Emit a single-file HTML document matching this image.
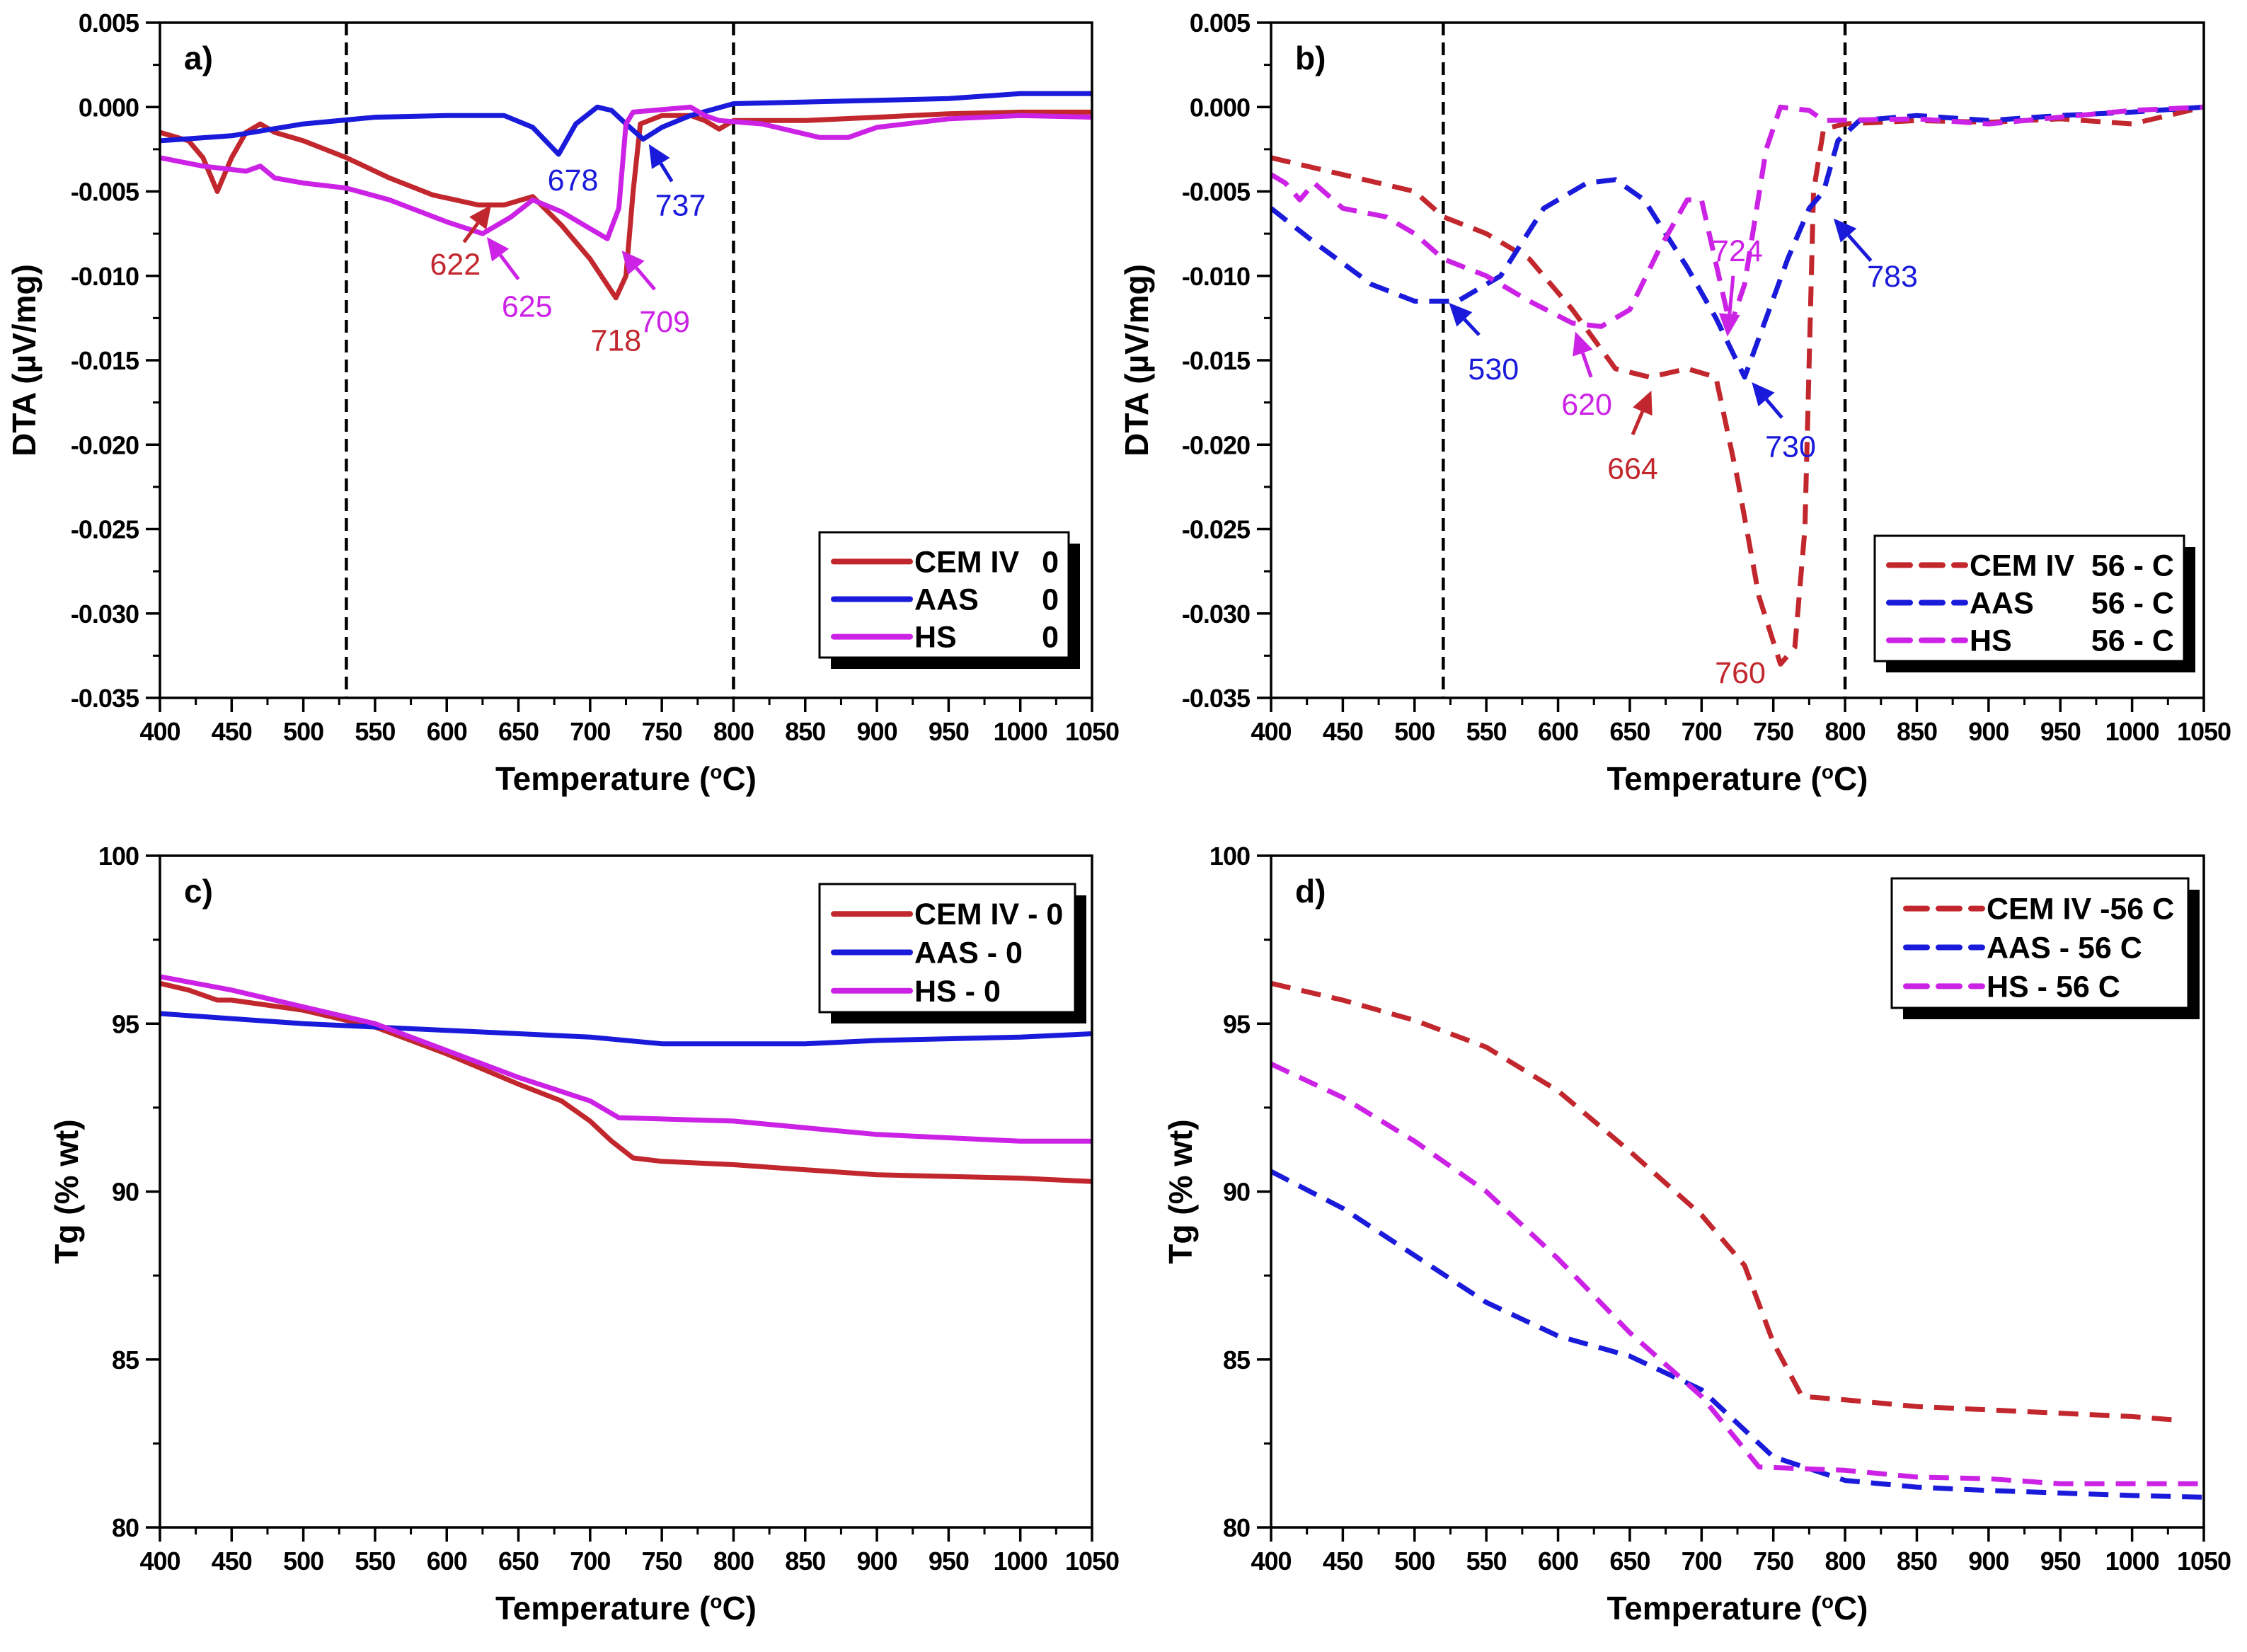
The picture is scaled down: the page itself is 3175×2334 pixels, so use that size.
<!DOCTYPE html>
<html><head><meta charset="utf-8"><style>
html,body{margin:0;padding:0;background:#fff;}
svg{display:block;}
text{font-family:"Liberation Sans",Arial,sans-serif;}
.tick{font-size:36px;font-weight:bold;letter-spacing:-1px;}
.title{font-size:46px;font-weight:bold;}
.leg{font-size:43px;font-weight:bold;}
.ann{font-size:43px;}
</style></head><body>
<svg id="fig" width="3175" height="2334" viewBox="0 0 3175 2334" xmlns="http://www.w3.org/2000/svg"></svg>
<script>
// ---- data: x temperatures and y values per series ----
const aCemX=[400,420,430,440,450,460,470,480,500,530,560,590,622,640,660,680,700,718,725,730,735,750,770,780,790,800,850,900,950,1000,1050];
const aCemY=[-0.0015,-0.002,-0.003,-0.005,-0.003,-0.0015,-0.001,-0.0015,-0.002,-0.003,-0.0042,-0.0052,-0.0058,-0.0058,-0.0053,-0.007,-0.009,-0.0113,-0.010,-0.005,-0.001,-0.0005,-0.0005,-0.0008,-0.0013,-0.0008,-0.0008,-0.0006,-0.0004,-0.0003,-0.0003];
const aAasX=[400,450,500,550,600,640,660,678,690,705,715,725,737,750,770,800,850,900,950,1000,1050];
const aAasY=[-0.002,-0.0017,-0.001,-0.0006,-0.0005,-0.0005,-0.0012,-0.0028,-0.001,0.0,-0.0002,-0.001,-0.0019,-0.0012,-0.0005,0.0002,0.0003,0.0004,0.0005,0.0008,0.0008];
const aHsX=[400,430,460,470,480,500,530,560,600,625,645,660,680,700,712,720,725,730,770,780,790,820,860,880,900,950,1000,1050];
const aHsY=[-0.003,-0.0035,-0.0038,-0.0035,-0.0042,-0.0045,-0.0048,-0.0055,-0.0068,-0.0075,-0.0065,-0.0055,-0.0062,-0.0072,-0.0078,-0.006,-0.001,-0.0003,0.0,-0.0005,-0.0008,-0.001,-0.0018,-0.0018,-0.0012,-0.0007,-0.0005,-0.0006];

const bCemX=[400,450,500,520,550,580,610,640,664,690,710,725,740,755,765,772,778,785,800,850,900,950,1000,1050];
const bCemY=[-0.003,-0.004,-0.005,-0.0065,-0.0075,-0.009,-0.012,-0.0155,-0.016,-0.0155,-0.016,-0.022,-0.029,-0.033,-0.032,-0.025,-0.005,-0.0013,-0.001,-0.0008,-0.0009,-0.0007,-0.001,0.0];
const bAasX=[400,430,470,500,530,560,590,620,640,660,690,710,730,745,760,775,785,795,810,850,900,950,1000,1050];
const bAasY=[-0.006,-0.008,-0.0105,-0.0115,-0.0115,-0.01,-0.006,-0.0045,-0.0043,-0.0055,-0.0095,-0.0125,-0.016,-0.0125,-0.009,-0.006,-0.005,-0.002,-0.0008,-0.0005,-0.0008,-0.0005,-0.0003,0.0];
const bHsX=[400,410,420,430,450,480,500,520,550,580,610,630,650,670,690,700,720,730,745,755,775,785,850,900,1000,1050];
const bHsY=[-0.004,-0.0045,-0.0055,-0.0045,-0.006,-0.0065,-0.0075,-0.009,-0.01,-0.0115,-0.0128,-0.013,-0.012,-0.0085,-0.0055,-0.0055,-0.013,-0.0105,-0.0025,0.0,-0.0002,-0.0008,-0.0007,-0.001,-0.0002,0.0];

const cCemX=[400,420,440,450,500,550,600,650,680,700,715,730,750,800,900,1000,1050];
const cCemY=[96.2,96.0,95.7,95.7,95.4,94.9,94.1,93.2,92.7,92.1,91.5,91.0,90.9,90.8,90.5,90.4,90.3];
const cAasX=[400,500,600,700,750,800,850,900,1000,1050];
const cAasY=[95.3,95.0,94.8,94.6,94.4,94.4,94.4,94.5,94.6,94.7];
const cHsX=[400,450,500,550,600,650,700,720,800,900,1000,1050];
const cHsY=[96.4,96.0,95.5,95.0,94.2,93.4,92.7,92.2,92.1,91.7,91.5,91.5];

const dCemX=[400,450,500,550,600,650,700,730,750,770,800,850,900,1000,1030];
const dCemY=[96.2,95.7,95.1,94.3,93.0,91.2,89.3,87.8,85.5,83.9,83.8,83.6,83.5,83.3,83.2];
const dAasX=[400,450,500,550,600,650,700,750,800,850,900,1000,1050];
const dAasY=[90.6,89.5,88.1,86.7,85.7,85.1,84.1,82.1,81.4,81.2,81.1,80.95,80.9];
const dHsX=[400,450,500,550,600,650,700,740,800,850,900,950,1050];
const dHsY=[93.8,92.8,91.5,90.0,88.0,85.8,83.9,81.8,81.7,81.5,81.45,81.3,81.3];

const xTicks=[400,450,500,550,600,650,700,750,800,850,900,950,1000,1050];
const dtaTicks=[0.005,0.000,-0.005,-0.010,-0.015,-0.020,-0.025,-0.030,-0.035];
const dtaTickLabels=["0.005","0.000","-0.005","-0.010","-0.015","-0.020","-0.025","-0.030","-0.035"];
const tgTicks=[100,95,90,85,80];
const tgTickLabels=["100","95","90","85","80"];

const RED="#c1272d", BLUE="#1a1adb", MAG="#cc22e6";
const NS="http://www.w3.org/2000/svg";
const fig=document.getElementById('fig');
function el(tag,attrs,parent){const e=document.createElementNS(NS,tag);for(const k in attrs)e.setAttribute(k,attrs[k]);(parent||fig).appendChild(e);return e;}

function makePanel(p){
  const g=el('g',{});
  
  
  const sx=v=>p.x0+(v-400)/(1050-400)*(p.x1-p.x0);
  const sy=v=>p.y0+(p.ymax-v)/(p.ymax-p.ymin)*(p.y1-p.y0);
  (p.vlines||[]).forEach(v=>{
    const l=el('line',{x1:sx(v),x2:sx(v),y1:p.y0,y2:p.y1,stroke:'#000','stroke-width':4.5,'stroke-dasharray':'18,10'},g);
    
    
  });
  p.series.forEach(s=>{
    const d=s.x.map((xv,i)=>(i?'L':'M')+sx(xv).toFixed(1)+','+sy(s.y[i]).toFixed(1)).join(' ');
    const path=el('path',{d:d,fill:'none',stroke:s.c,'stroke-width':s.dash?7:7,'stroke-linejoin':'round','stroke-dasharray':s.dash?'28,16':'none'},g);
    
    
  });
  const fr=el('rect',{x:p.x0,y:p.y0,width:p.x1-p.x0,height:p.y1-p.y0,fill:'none',stroke:'#000','stroke-width':3.5},g);
  
  
  xTicks.forEach((t,i)=>{
    el('line',{x1:sx(t),x2:sx(t),y1:p.y1,y2:p.y1+20,stroke:'#000','stroke-width':3.5},g);
    if(i<xTicks.length-1){const m=t+25;el('line',{x1:sx(m),x2:sx(m),y1:p.y1,y2:p.y1+10,stroke:'#000','stroke-width':3},g);}
    const tx=el('text',{x:sx(t),y:p.y1+60,'text-anchor':'middle',class:'tick'},g);
    tx.textContent=String(t);
    
    
  });
  p.yt.forEach((t,i)=>{
    el('line',{x1:p.x0-20,x2:p.x0,y1:sy(t),y2:sy(t),stroke:'#000','stroke-width':3.5},g);
    if(i<p.yt.length-1){const m=(t+p.yt[i+1])/2;el('line',{x1:p.x0-10,x2:p.x0,y1:sy(m),y2:sy(m),stroke:'#000','stroke-width':3},g);}
    const tx=el('text',{x:p.x0-30,y:sy(t)+13,'text-anchor':'end',class:'tick'},g);
    tx.textContent=p.ytl[i];
    
    
  });
  const xt=el('text',{x:(p.x0+p.x1)/2,y:p.y1+130,'text-anchor':'middle',class:'title'},g);
  xt.innerHTML='Temperature (<tspan font-size="28" dy="-16">o</tspan><tspan dy="16">C)</tspan>';
  
  
  const ycx=p.ytx, ycy=(p.y0+p.y1)/2;
  const yt=el('text',{x:ycx,y:ycy,'text-anchor':'middle',class:'title',transform:'rotate(-90 '+ycx+' '+ycy+')'},g);
  yt.textContent=p.ytitle;
  
  
  const pl=el('text',{x:p.x0+34,y:p.y0+66,class:'title','font-size':'46'},g);
  pl.textContent=p.label;
  
  
  const L=p.leg;
  el('rect',{x:L.x+16,y:L.y+16,width:L.w,height:L.h,fill:'#000'},g);
  const lb=el('rect',{x:L.x,y:L.y,width:L.w,height:L.h,fill:'#fff',stroke:'#000','stroke-width':3},g);
  
  
  p.series.forEach((s,i)=>{
    const yy=L.y+L.h*(0.2+0.3*i)+6;
    el('line',{x1:L.x+20,x2:L.x+128,y1:yy,y2:yy,stroke:s.c,'stroke-width':8,'stroke-linecap':'round','stroke-dasharray':s.dash?'30,16':'none'},g);
    const t=el('text',{x:L.x+134,y:yy+15,class:'leg'},g);
    t.textContent=s.lab;
    
    
    if(s.lab2){
      const t2=el('text',{x:L.x+L.w-14,y:yy+15,class:'leg','text-anchor':'end'},g);
      t2.textContent=s.lab2;
      
      
    }
  });
  (p.ann||[]).forEach(a=>{
    if(a.ar){
      const x1=sx(a.ar[0]),y1=sy(a.ar[1]),x2=sx(a.ar[2]),y2=sy(a.ar[3]);
      const ang=Math.atan2(y2-y1,x2-x1),hl=32,hw=15;
      const bx=x2-hl*Math.cos(ang),by=y2-hl*Math.sin(ang);
      el('line',{x1:x1,y1:y1,x2:bx,y2:by,stroke:a.c,'stroke-width':5},g);
      const pts=[[x2,y2],[bx+hw*Math.sin(ang),by-hw*Math.cos(ang)],[bx-hw*Math.sin(ang),by+hw*Math.cos(ang)]];
      const ah=el('polygon',{points:pts.map(q=>q.join(',')).join(' '),fill:a.c},g);
      
      
    }
    const t=el('text',{x:sx(a.tx),y:sy(a.ty)+15,'text-anchor':'middle',class:'ann',fill:a.c},g);
    t.textContent=a.t;
    
    
  });
}

makePanel({name:'panel-a-dta-0',label:'a)',x0:226,x1:1543,y0:32,y1:986,ymin:-0.035,ymax:0.005,yt:dtaTicks,ytl:dtaTickLabels,ytitle:'DTA (µV/mg)',ytx:50,vlines:[530,800],
  series:[{n:'series-cem-iv-0',x:aCemX,y:aCemY,c:RED,lab:'CEM IV',lab2:'0'},{n:'series-aas-0',x:aAasX,y:aAasY,c:BLUE,lab:'AAS',lab2:'0'},{n:'series-hs-0',x:aHsX,y:aHsY,c:MAG,lab:'HS',lab2:'0'}],
  leg:{x:1158,y:752,w:352,h:177},
  ann:[{t:'622',c:RED,tx:606,ty:-0.0093,ar:[612,-0.0080,631,-0.0058]},
       {t:'625',c:MAG,tx:656,ty:-0.0118,ar:[650,-0.0102,628,-0.0077]},
       {t:'718',c:RED,tx:718,ty:-0.0138},
       {t:'709',c:MAG,tx:752,ty:-0.0127,ar:[745,-0.0108,722,-0.0085]},
       {t:'678',c:BLUE,tx:688,ty:-0.0043},
       {t:'737',c:BLUE,tx:763,ty:-0.0058,ar:[757,-0.0044,741,-0.0022]}]});

makePanel({name:'panel-b-dta-56c',label:'b)',x0:1796,x1:3114,y0:32,y1:986,ymin:-0.035,ymax:0.005,yt:dtaTicks,ytl:dtaTickLabels,ytitle:'DTA (µV/mg)',ytx:1622,vlines:[520,800],
  series:[{n:'series-cem-iv-56c',x:bCemX,y:bCemY,c:RED,dash:true,lab:'CEM IV',lab2:'56 - C'},{n:'series-aas-56c',x:bAasX,y:bAasY,c:BLUE,dash:true,lab:'AAS',lab2:'56 - C'},{n:'series-hs-56c',x:bHsX,y:bHsY,c:MAG,dash:true,lab:'HS',lab2:'56 - C'}],
  leg:{x:2649,y:757,w:437,h:177},
  ann:[{t:'530',c:BLUE,tx:555,ty:-0.0155,ar:[545,-0.0135,524,-0.0116]},
       {t:'620',c:MAG,tx:620,ty:-0.0176,ar:[623,-0.0160,612,-0.0133]},
       {t:'664',c:RED,tx:652,ty:-0.0214,ar:[652,-0.0194,665,-0.0168]},
       {t:'724',c:MAG,tx:725,ty:-0.0085,ar:[722,-0.0100,718,-0.0136]},
       {t:'730',c:BLUE,tx:762,ty:-0.0201,ar:[756,-0.0184,735,-0.0163]},
       {t:'760',c:RED,tx:727,ty:-0.0335},
       {t:'783',c:BLUE,tx:833,ty:-0.0100,ar:[818,-0.0091,792,-0.0066]}]});

makePanel({name:'panel-c-tg-0',label:'c)',x0:226,x1:1543,y0:1209,y1:2158,ymin:80,ymax:100,yt:tgTicks,ytl:tgTickLabels,ytitle:'Tg (% wt)',ytx:110,
  series:[{n:'series-cem-iv-0-tg',x:cCemX,y:cCemY,c:RED,lab:'CEM IV - 0'},{n:'series-aas-0-tg',x:cAasX,y:cAasY,c:BLUE,lab:'AAS - 0'},{n:'series-hs-0-tg',x:cHsX,y:cHsY,c:MAG,lab:'HS - 0'}],
  leg:{x:1158,y:1249,w:361,h:181}});

makePanel({name:'panel-d-tg-56c',label:'d)',x0:1796,x1:3114,y0:1209,y1:2158,ymin:80,ymax:100,yt:tgTicks,ytl:tgTickLabels,ytitle:'Tg (% wt)',ytx:1684,
  series:[{n:'series-cem-iv-56c-tg',x:dCemX,y:dCemY,c:RED,dash:true,lab:'CEM IV -56 C'},{n:'series-aas-56c-tg',x:dAasX,y:dAasY,c:BLUE,dash:true,lab:'AAS - 56 C'},{n:'series-hs-56c-tg',x:dHsX,y:dHsY,c:MAG,dash:true,lab:'HS - 56 C'}],
  leg:{x:2673,y:1241,w:419,h:183}});
</script>
</body></html>
